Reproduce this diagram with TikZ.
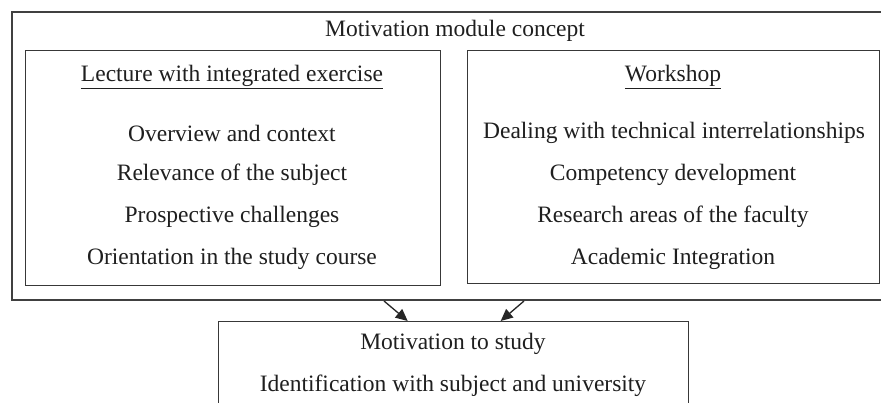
\documentclass[tikz,border=0pt]{standalone}
\usepackage{fontspec}
\setmainfont{Liberation Serif}
\usetikzlibrary{arrows.meta}
\begin{document}
\begin{tikzpicture}[x=1pt,y=-1pt,
  box/.style={draw=black!78, line width=1.4pt, inner sep=0pt, anchor=north west},
  outerbox/.style={draw=black!75, line width=2pt, inner sep=0pt, anchor=north west},
  txt/.style={text=black!88, font=\fontsize{23.5}{26}\selectfont, inner sep=0pt, anchor=center},
  arrow/.style={draw=black!85, line width=1.3pt, -{Triangle[length=12pt,width=11pt]}}]
\useasboundingbox (0,0) rectangle (881,403);
\fill[white] (0,0) rectangle (881,403);
\node[outerbox, minimum width=880pt, minimum height=288pt] (outer) at (11,11) {};
\node[box, minimum width=415pt, minimum height=235pt] (left) at (25,50) {};
\node[box, minimum width=412pt, minimum height=233pt] (right) at (467,50) {};
\node[box, minimum width=470pt, minimum height=100pt] (bottom) at (218,321) {};
\node[txt] (title) at (455,31) {Motivation module concept};
\node[txt] (lt) at (232,77) {\underline{Lecture with integrated exercise}};
\node[txt] (l1) at (232,133) {Overview and context};
\node[txt] (l2) at (232,175) {Relevance of the subject};
\node[txt] (l3) at (232,217) {Prospective challenges};
\node[txt] (l4) at (232,259) {Orientation in the study course};
\node[txt] (rt) at (673,77) {\underline{Workshop}};
\node[txt] (r1) at (674,133) {Dealing with technical interrelationships};
\node[txt] (r2) at (673,175) {Competency development};
\node[txt] (r3) at (673,217) {Research areas of the faculty};
\node[txt] (r4) at (673,259) {Academic Integration};
\node[txt] (b1) at (453,344) {Motivation to study};
\node[txt] (b2) at (453,386) {Identification with subject and university};
\draw[arrow] ([xshift=-68pt]outer.south) -- ([xshift=-46pt]bottom.north);
\draw[arrow] ([xshift=72pt]outer.south) -- ([xshift=47pt]bottom.north);
\end{tikzpicture}
\end{document}
